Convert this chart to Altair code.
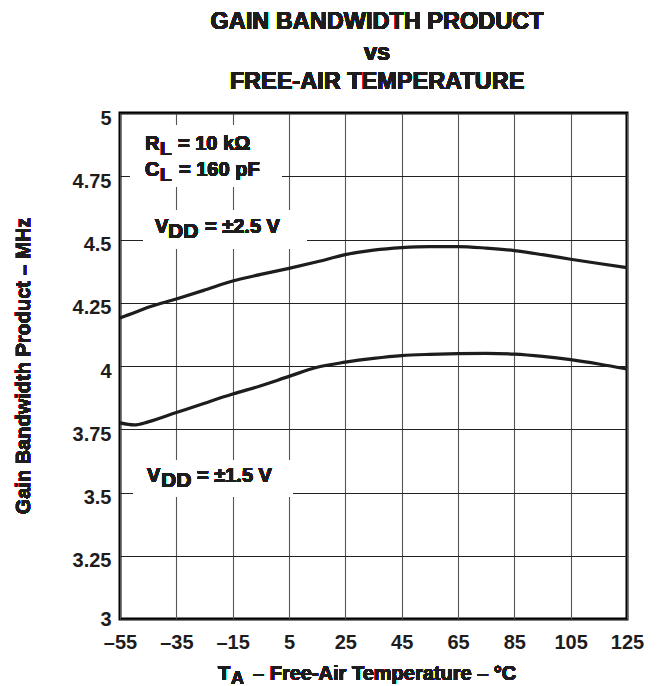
import altair as alt
import pandas as pd

# ---- data ----
temps = [-55, -50, -45, -35, -25, -15, -5, 5, 15, 25, 35, 45, 55, 65, 75, 85, 95, 105, 115, 125]
gbw_25 = [4.19, 4.21, 4.232, 4.265, 4.30, 4.336, 4.362, 4.386, 4.412, 4.44, 4.458, 4.468, 4.472, 4.472, 4.466, 4.456, 4.44, 4.422, 4.405, 4.389]
gbw_15 = [3.775, 3.767, 3.779, 3.816, 3.853, 3.889, 3.922, 3.959, 3.995, 4.015, 4.03, 4.041, 4.046, 4.049, 4.05, 4.047, 4.038, 4.025, 4.008, 3.988]
series_names = ["VDD = ±2.5 V", "VDD = ±1.5 V"]
x_ticks = [-55, -35, -15, 5, 25, 45, 65, 85, 105, 125]
y_ticks = [3, 3.25, 3.5, 3.75, 4, 4.25, 4.5, 4.75, 5]

rows = []
for name, vals in zip(series_names, [gbw_25, gbw_15]):
    for t, v in zip(temps, vals):
        rows.append({"T": t, "GBW": v, "series": name})
df = pd.DataFrame(rows)

FONT = "Liberation Sans"
INK = "#1e1c1c"
W, H = 507, 506
PL, PT = 112, 105  # padding left / top (plot origin offset)

lines = alt.Chart(df).mark_line(color=INK, strokeWidth=3.2, interpolate="monotone").encode(
    x=alt.X("T:Q", scale=alt.Scale(domain=[-55, 125], nice=False),
            axis=alt.Axis(values=x_ticks, title=None, grid=True, ticks=False, tickSize=0,
                          domain=False, labelPadding=13, labelFontSize=20, labelFlush=False,
                          labelExpr="datum.value < 0 ? '–' + abs(datum.value) : '' + datum.value",
                          gridColor="#555555", gridWidth=1.1)),
    y=alt.Y("GBW:Q", scale=alt.Scale(domain=[3, 5], nice=False),
            axis=alt.Axis(values=y_ticks, title=None, grid=True, ticks=False, tickSize=0,
                          domain=False, labelPadding=9, labelFontSize=20,
                          labelBaseline="middle",
                          labelOffset={"condition": {"test": "datum.value == 3", "value": 0}, "value": 5},
                          labelFlush=False,
                          labelExpr="'' + datum.value",
                          gridColor="#222222", gridWidth=1)),
    detail="series:N",
)

layers = [lines]

# white boxes behind the in-plot labels (plot-relative pixels)
boxes = [(10, 12, 162, 74), (23, 97, 187, 136), (13, 347, 173, 384)]
for x1, y1, x2, y2 in boxes:
    layers.append(alt.Chart(df).mark_rect(color="white").encode(
        x=alt.value(x1), x2=alt.value(x2), y=alt.value(y1), y2=alt.value(y2)))

# text pieces: (text, abs x, abs baseline y, size, align)
pieces = [
    ("GAIN BANDWIDTH PRODUCT", 377, 29, 23.5, "center"),
    ("vs", 377, 60, 23.5, "center"),
    ("FREE-AIR TEMPERATURE", 377, 89, 23.5, "center"),
    ("R", 145, 150, 20, "left"), ("L", 160, 155, 19, "left"), ("= 10 kΩ", 178, 150, 20, "left"),
    ("C", 145, 176, 20, "left"), ("L", 160, 181, 19, "left"), ("= 160 pF", 179, 176, 20, "left"),
    ("V", 155, 233, 20, "left"), ("DD", 168, 238, 21, "left"), ("= ±2.5 V", 205, 233, 20, "left"),
    ("V", 147, 482, 20, "left"), ("DD", 161, 487, 21, "left"), ("= ±1.5 V", 197, 482, 20, "left"),
    ("T", 218, 680, 20, "left"), ("A", 231, 684, 18, "left"),
    ("– Free-Air Temperature – °C", 253, 680, 20, "left"),
]
for txt, ax, ay, fs, al in pieces:
    layers.append(alt.Chart(df).mark_text(
        text=txt, font=FONT, fontWeight="bold", fontSize=fs, color=INK,
        align=al, baseline="alphabetic").encode(
        x=alt.value(ax - 8 - PL), y=alt.value(ay - 8 - PT)))

# y-axis title
layers.append(alt.Chart(df).mark_text(
    text="Gain Bandwidth Product – MHz", font=FONT, fontWeight="bold", fontSize=20,
    color=INK, angle=270, align="center", baseline="middle").encode(
    x=alt.value(24 - 8 - PL), y=alt.value(366 - 8 - PT)))

chart = alt.layer(*layers).properties(
    width=W, height=H,
    autosize=alt.AutoSizeParams(type="none"),
    padding={"left": PL, "top": PT, "right": 29, "bottom": 66},
).configure_view(stroke="black", strokeWidth=3).configure_axis(
    labelFont=FONT, labelFontWeight="bold", labelColor=INK
)

chart.save("out.html", embed_options={"renderer": "svg", "actions": False})
